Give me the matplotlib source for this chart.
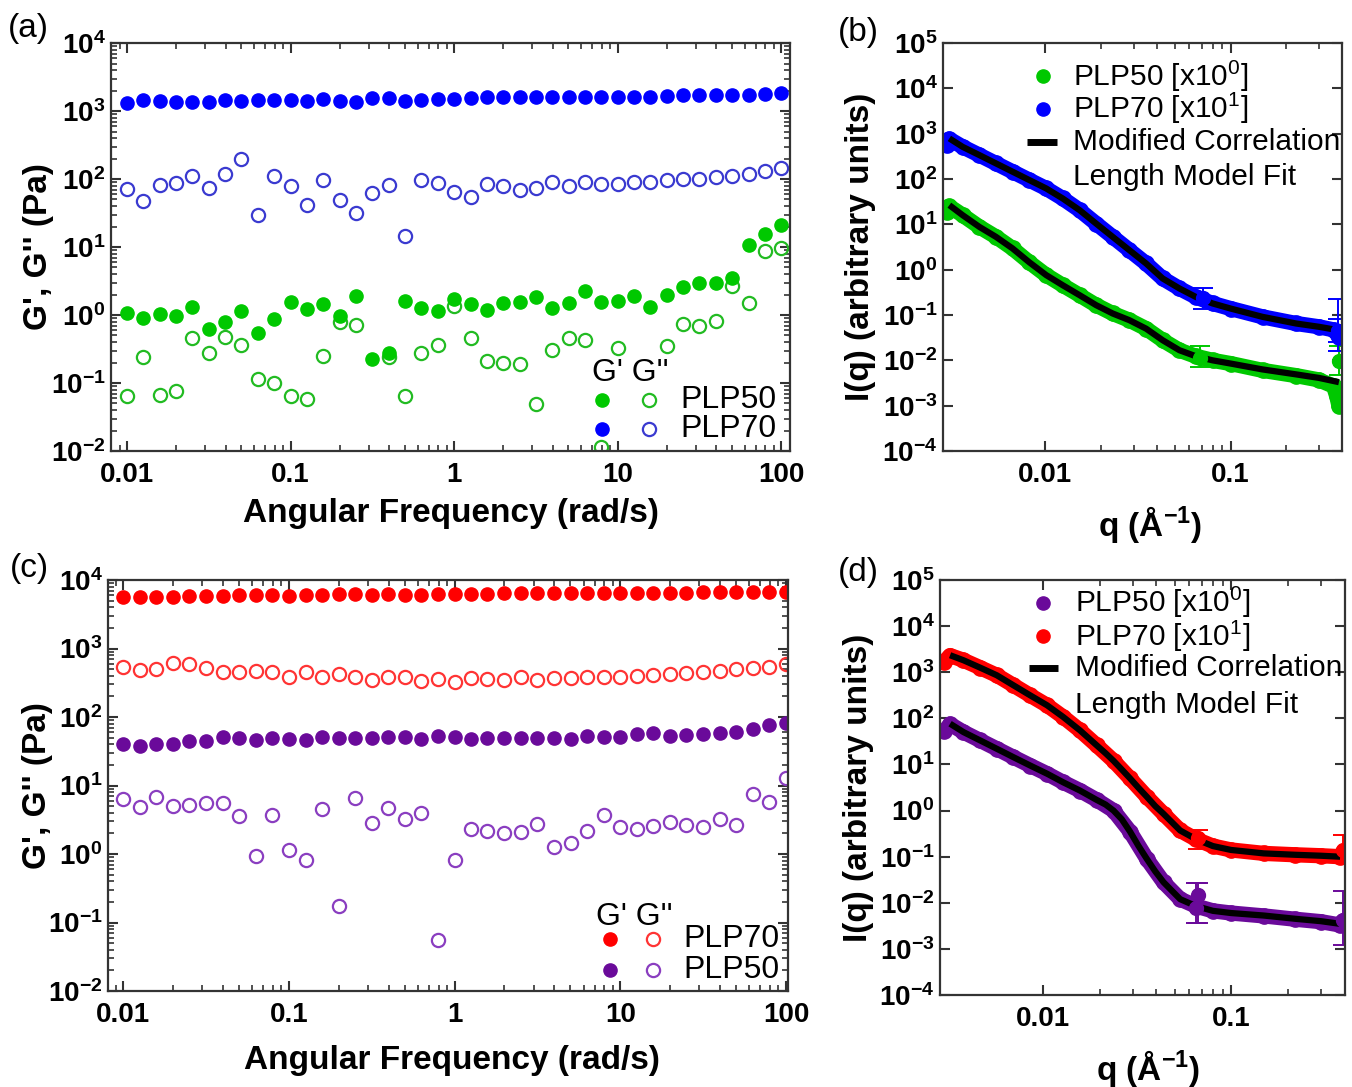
import numpy as np
import matplotlib
matplotlib.use('Agg')
import matplotlib.pyplot as plt
from matplotlib.ticker import FixedLocator, NullLocator, FuncFormatter, LogLocator, NullFormatter

plt.rcParams['font.family'] = ['Liberation Sans', 'DejaVu Sans']
plt.rcParams['mathtext.fontset'] = 'custom'
plt.rcParams['mathtext.rm'] = 'Liberation Sans'
plt.rcParams['mathtext.bf'] = 'Liberation Sans:bold'
plt.rcParams['mathtext.it'] = 'Liberation Sans:italic'
plt.rcParams['mathtext.default'] = 'regular'

nan = np.nan

# angular frequency (rad/s), 10 points per decade
freq = [0.01, 0.0126, 0.0158, 0.02, 0.0251, 0.0316, 0.0398, 0.0501, 0.0631, 0.0794,
        0.1, 0.126, 0.158, 0.2, 0.251, 0.316, 0.398, 0.501, 0.631, 0.794,
        1, 1.26, 1.58, 2, 2.51, 3.16, 3.98, 5.01, 6.31, 7.94,
        10, 12.6, 15.8, 20, 25.1, 31.6, 39.8, 50.1, 63.1, 79.4, 100]

# panel (a)
a70_G1 = [1324, 1435, 1403, 1355, 1340, 1340, 1452, 1403, 1435, 1435,
          1469, 1387, 1486, 1419, 1355, 1537, 1570, 1403, 1469, 1486,
          1517, 1570, 1626, 1588, 1588, 1626, 1626, 1588, 1626, 1626,
          1626, 1626, 1626, 1680, 1700, 1700, 1700, 1700, 1718, 1778, 1820]
a70_G2 = [71, 48, 82, 86, 111, 74, 117, 199, 29.5, 111,
          79, 41, 97, 49, 32, 62, 83, 14.7, 97, 86,
          65, 55, 85, 80, 69, 73, 90, 79, 91, 84,
          84, 89, 89, 96, 99, 101, 108, 112, 120, 130, 147]
a50_G1 = [1.06, 0.914, 1.03, 0.977, 1.33, 0.616, 0.780, 1.16, 0.537, 0.863,
          1.54, 1.21, 1.43, 0.966, 1.90, 0.223, 0.279, 1.61, 1.28, 1.13,
          1.72, 1.45, 1.19, 1.48, 1.55, 1.84, 1.28, 1.52, 2.23, 1.55,
          1.61, 1.92, 1.31, 1.97, 2.61, 2.93, 2.93, 3.46, 10.7, 15.5, 21.1]
a50_G2 = [0.0644, 0.241, 0.0659, 0.0763, 0.464, 0.273, 0.480, 0.362, 0.113, 0.101,
          0.0652, 0.0582, 0.249, 0.798, 0.721, nan, 0.238, 0.0644, 0.273, 0.358,
          1.36, 0.464, 0.211, 0.199, 0.190, 0.0491, 0.305, 0.454, 0.424, 0.0113,
          0.331, nan, nan, 0.354, 0.729, 0.697, 0.826, 2.67, 1.52, 8.83, 9.55]

# panel (c)
c70_G1 = [5710, 5580, 5710, 5710, 5780, 5840, 5840, 5970, 5970, 5970,
          5900, 5970, 6040, 6180, 6250, 6110, 6250, 6110, 6110, 6250,
          6250, 6250, 6250, 6390, 6390, 6390, 6390, 6390, 6530, 6530,
          6530, 6530, 6530, 6530, 6530, 6600, 6600, 6600, 6600, 6600, 6600]
c70_G2 = [543, 486, 497, 607, 594, 514, 459, 449, 475, 454,
          388, 459, 380, 425, 388, 347, 384, 380, 335, 355,
          328, 375, 355, 347, 380, 347, 367, 367, 380, 388,
          388, 401, 410, 425, 434, 459, 475, 497, 525, 543, 587]
c50_G1 = [40.4, 37.7, 40.4, 39.9, 45.1, 45.1, 51.6, 48.8, 46.1, 49.9,
          47.7, 46.1, 51.6, 48.8, 49.9, 49.9, 51.6, 50.4, 47.7, 53.4,
          50.4, 48.3, 49.9, 49.9, 49.9, 49.9, 49.9, 47.7, 53.4, 51.6,
          50.4, 55.8, 57.7, 52.8, 54.6, 56.4, 57.7, 59.7, 66.1, 76.4, 82.6]
c50_G2 = [6.35, 4.91, 6.87, 5.08, 5.19, 5.49, 5.62, 3.63, 0.935, 3.75,
          1.14, 0.817, 4.49, 0.174, 6.64, 2.87, 4.75, 3.21, 3.93, 0.0556,
          0.817, 2.34, 2.19, 2.05, 2.07, 2.74, 1.28, 1.43, 2.19, 3.71,
          2.45, 2.34, 2.56, 2.90, 2.65, 2.50, 3.21, 2.65, 7.43, 5.81, 13.0]

# panel (b) SAXS
qb_dat = [0.00295, 0.00303, 0.00357, 0.0044, 0.00541, 0.00665, 0.0082, 0.0101, 0.0124, 0.0153,
          0.0188, 0.0231, 0.0284, 0.035, 0.043, 0.053, 0.065, 0.08, 0.1, 0.149,
          0.226, 0.3, 0.36, 0.375, 0.385]
b70_dat = [560, 760, 514, 337, 221, 145, 94.6, 62, 37.3, 20.6,
           10.4, 5.3, 2.7, 1.37, 0.64, 0.385, 0.25, 0.18, 0.139, 0.091,
           0.065, 0.055, 0.047, 0.04, 0.032]
b50_dat = [19, 25, 16, 8.8, 5.3, 2.94, 1.45, 0.76, 0.455, 0.274,
           0.165, 0.108, 0.077, 0.05, 0.0278, 0.0167, 0.0123, 0.01, 0.0085, 0.006,
           0.0046, 0.0037, 0.0027, 0.0016, 0.001]
qb_fit = [0.00303, 0.00357, 0.0044, 0.00541, 0.00665, 0.0082, 0.0101, 0.0124, 0.0153, 0.0188,
          0.0231, 0.0284, 0.035, 0.043, 0.053, 0.065, 0.08, 0.1, 0.149, 0.226, 0.3, 0.385]
b70_fit = [787, 514, 337, 221, 145, 94.6, 62, 37.3, 20.6, 10.4,
           5.3, 2.7, 1.37, 0.64, 0.385, 0.25, 0.18, 0.139, 0.091, 0.065, 0.055, 0.046]
b50_fit = [26.5, 16, 8.8, 5.3, 2.94, 1.45, 0.76, 0.455, 0.274, 0.165,
           0.108, 0.077, 0.05, 0.0278, 0.0167, 0.0123, 0.01, 0.0085, 0.0063, 0.0049, 0.0041, 0.0033]
b70_err = dict(q=[0.0708, 0.38, 0.38], c=[0.24, 0.045, 0.045], lo=[0.135, 0.016, 0.025], hi=[0.39, 0.22, 0.08])
b50_err = dict(q=[0.0688, 0.385], c=[0.011, 0.0095], lo=[0.0071, 0.0047], hi=[0.021, 0.021])

# panel (d) SAXS
qd_dat = [0.00298, 0.0032, 0.00377, 0.00462, 0.00567, 0.00695, 0.00853, 0.0105, 0.0128, 0.0157,
          0.0193, 0.0237, 0.029, 0.0356, 0.0437, 0.0536, 0.065, 0.08, 0.1, 0.149,
          0.22, 0.3, 0.38, 0.392]
d70_dat = [1680, 2300, 1820, 1260, 860, 522, 316, 192, 107, 55,
           25.9, 12, 5.0, 2.0, 0.85, 0.37, 0.24, 0.17, 0.14, 0.118,
           0.11, 0.105, 0.10, 0.125]
d50_dat = [52, 75, 50.4, 33.3, 21.9, 14.4, 9.5, 6.3, 4.1, 2.72,
           1.7, 1.0, 0.35, 0.09, 0.028, 0.012, 0.0085, 0.0067, 0.006, 0.0052,
           0.0044, 0.0039, 0.0033, 0.004]
qd_fit = [0.0032, 0.00377, 0.00462, 0.00567, 0.00695, 0.00853, 0.0105, 0.0128, 0.0157, 0.0193,
          0.0215, 0.0237, 0.0262, 0.029, 0.0322, 0.0356, 0.0395, 0.0437, 0.0536, 0.065,
          0.08, 0.1, 0.149, 0.22, 0.3, 0.38]
d70_fit = [2340, 1820, 1260, 860, 522, 316, 192, 107, 55, 25.9,
           17.5, 12, 7.8, 5.0, 3.1, 2.0, 1.25, 0.85, 0.37, 0.24,
           0.17, 0.14, 0.118, 0.11, 0.105, 0.10]
d50_fit = [76.6, 50.4, 33.3, 21.9, 14.4, 9.5, 6.3, 4.1, 2.72, 1.7,
           1.35, 1.0, 0.65, 0.35, 0.17, 0.09, 0.048, 0.028, 0.012, 0.0085,
           0.0067, 0.006, 0.0053, 0.0045, 0.004, 0.0035]
d70_err = dict(q=[0.067, 0.394], c=[0.25, 0.14], lo=[0.15, 0.09], hi=[0.37, 0.29])
d50_err = dict(q=[0.067, 0.065, 0.394], c=[0.0146, 0.0079, 0.0042], lo=[0.0037, 0.0037, 0.0012], hi=[0.027, 0.027, 0.018])

GREEN_F, GREEN_O = '#00c800', '#22bb22'
BLUE_F, BLUE_O = '#0000ff', '#3a3ad0'
RED_F, RED_O = '#ff0000', '#ff3434'
PURP_F, PURP_O = '#6a0a9a', '#8a3ec0'
SPINE = '#333333'

TICK_FS = 20
LABEL_FS = 24
LEG_FS = 23


def dec_label(v, pos):
    e = int(round(np.log10(v)))
    return r'$\mathbf{10^{%d}}$' % e


def style(ax, xlim, ylim, xmajor, xlabels, ydecs, xminor, yminor):
    ax.set_xscale('log')
    ax.set_yscale('log')
    ax.set_xlim(*xlim)
    ax.set_ylim(*ylim)
    ax.xaxis.set_major_locator(FixedLocator(xmajor))
    ax.xaxis.set_major_formatter(FuncFormatter(lambda v, p: xlabels[xmajor.index(v)] if v in xmajor else ''))
    ax.xaxis.set_minor_locator(FixedLocator(xminor))
    ax.xaxis.set_minor_formatter(NullFormatter())
    ax.yaxis.set_major_locator(FixedLocator([10.0 ** e for e in ydecs]))
    ax.yaxis.set_major_formatter(FuncFormatter(dec_label))
    if yminor:
        ax.yaxis.set_minor_locator(LogLocator(base=10, subs=np.arange(2, 10), numticks=20))
    else:
        ax.yaxis.set_minor_locator(NullLocator())
    ax.yaxis.set_minor_formatter(NullFormatter())
    ax.tick_params(which='both', direction='in', top=True, right=True, color=SPINE)
    ax.tick_params(which='major', length=7, width=1.5)
    ax.tick_params(which='minor', length=4, width=1.2)
    ax.tick_params(axis='x', which='major', pad=8, labelsize=TICK_FS)
    ax.tick_params(axis='y', which='major', pad=4, labelsize=TICK_FS)
    for lab in ax.get_xticklabels():
        lab.set_fontweight('bold')
    for s in ax.spines.values():
        s.set_color(SPINE)
        s.set_linewidth(1.6)


def labels(ax, xl, yl, xc, yc):
    ax.set_xlabel(xl, fontsize=LABEL_FS, fontweight='bold')
    ax.set_ylabel(yl, fontsize=LABEL_FS, fontweight='bold')
    ax.xaxis.label.set_va('center')
    ax.yaxis.label.set_va('center')
    ax.xaxis.set_label_coords(*xc)
    ax.yaxis.set_label_coords(*yc)


def rheo(ax, g1, g2, cf, co):
    ax.plot(freq, g2, 'o', mfc='none', mec=co, mew=1.6, ms=9.5)
    ax.plot(freq, g1, 'o', color=cf, mec=cf, ms=9.5)


def rheo_legend(ax, hx, hy, rows):
    ax.text(hx, hy, "G' G''", transform=ax.transAxes, fontsize=LEG_FS, va='center', ha='left')
    for (name, cf, co, xf, xo, xt, y) in rows:
        ax.plot([xf], [y], 'o', color=cf, ms=9.5, transform=ax.transAxes, clip_on=False)
        ax.plot([xo], [y], 'o', mfc='none', mec=co, mew=1.6, ms=9.5, transform=ax.transAxes, clip_on=False)
        ax.text(xt, y, name, transform=ax.transAxes, fontsize=LEG_FS, va='center', ha='left')


def saxs(ax, q_dat, i_dat, q_fit, i_fit, err, col):
    ax.plot(q_dat, i_dat, '-', color=col, lw=11, solid_capstyle='round', solid_joinstyle='round')
    ax.plot(q_dat, i_dat, 'o', color=col, ms=11)
    c = np.array(err['c'])
    ax.errorbar(err['q'], c, yerr=[c - np.array(err['lo']), np.array(err['hi']) - c],
                fmt='o', color=col, ms=10, capsize=7, elinewidth=1.4, capthick=1.4)
    ax.plot(q_fit, i_fit, '-', color='black', lw=4.5, solid_capstyle='butt')


def saxs_legend(ax, xd, xt, ys, names, cols, line_x, line_y, fit_y):
    for y, n, c in zip(ys, names, cols):
        ax.plot([xd], [y], 'o', color=c, ms=9.5, transform=ax.transAxes, clip_on=False)
        ax.text(xt, y, n, transform=ax.transAxes, fontsize=21.5, va='center', ha='left')
    ax.plot(line_x, [line_y, line_y], '-', color='black', lw=5, transform=ax.transAxes,
            clip_on=False, solid_capstyle='butt')
    ax.text(xt, line_y, 'Modified Correlation', transform=ax.transAxes, fontsize=21.5,
            va='center', ha='left')
    ax.text(xt, fit_y, 'Length Model Fit', transform=ax.transAxes, fontsize=21.5,
            va='center', ha='left')


fig = plt.figure(figsize=(13.52, 10.87), dpi=100)
axA = fig.add_axes([0.0821, 0.5851, 0.5022, 0.3753])
axB = fig.add_axes([0.6975, 0.5851, 0.2951, 0.3753])
axC = fig.add_axes([0.0799, 0.0883, 0.5030, 0.3781])
axD = fig.add_axes([0.6953, 0.0846, 0.2996, 0.3818])

f_major = [0.01, 0.1, 1, 10, 100]
f_labels = ['0.01', '0.1', '1', '10', '100']
f_minor = [m * 10.0 ** e for e in range(-3, 3) for m in range(2, 10)]
q_major = [0.01, 0.1]
q_labels = ['0.01', '0.1']
q_minor = [0.02, 0.03, 0.04, 0.05, 0.06, 0.07, 0.08, 0.09, 0.2, 0.3]

# (a)
rheo(axA, a70_G1, a70_G2, BLUE_F, BLUE_O)
rheo(axA, a50_G1, a50_G2, GREEN_F, GREEN_O)
style(axA, (0.00798, 113), (1e-2, 1e4), f_major, f_labels, range(-2, 5), f_minor, True)
rheo_legend(axA, 0.708, 0.191,
            [('PLP50', GREEN_F, GREEN_O, 0.723, 0.792, 0.838, 0.125),
             ('PLP70', BLUE_F, BLUE_O, 0.723, 0.792, 0.838, 0.054)])
labels(axA, 'Angular Frequency (rad/s)', "G', G'' (Pa)", (0.5, -0.152), (-0.1075, 0.5))

# (c)
rheo(axC, c70_G1, c70_G2, RED_F, RED_O)
rheo(axC, c50_G1, c50_G2, PURP_F, PURP_O)
style(axC, (0.0081, 103), (1e-2, 1e4), f_major, f_labels, range(-2, 5), f_minor, True)
rheo_legend(axC, 0.717, 0.180,
            [('PLP70', RED_F, RED_O, 0.738, 0.801, 0.846, 0.127),
             ('PLP50', PURP_F, PURP_O, 0.738, 0.801, 0.846, 0.051)])
labels(axC, 'Angular Frequency (rad/s)', "G', G'' (Pa)", (0.506, -0.168), (-0.103, 0.5))

# (b)
saxs(axB, qb_dat, b50_dat, qb_fit, b50_fit, b50_err, GREEN_F)
saxs(axB, qb_dat, b70_dat, qb_fit, b70_fit, b70_err, BLUE_F)
style(axB, (0.0028, 0.40), (1e-4, 1e5), q_major, q_labels, range(-4, 6), q_minor, False)
saxs_legend(axB, 0.251, 0.326, [0.918, 0.839], ['PLP50 [x10$^{0}$]', 'PLP70 [x10$^{1}$]'],
            [GREEN_F, BLUE_F], [0.211, 0.286], 0.757, 0.672)
labels(axB, r'q (Å$^{\mathbf{-1}}$)', 'I(q) (arbitrary units)', (0.519, -0.181), (-0.208, 0.5))

# (d)
saxs(axD, qd_dat, d50_dat, qd_fit, d50_fit, d50_err, PURP_F)
saxs(axD, qd_dat, d70_dat, qd_fit, d70_fit, d70_err, RED_F)
style(axD, (0.00283, 0.404), (1e-4, 1e5), q_major, q_labels, range(-4, 6), q_minor, False)
saxs_legend(axD, 0.254, 0.333, [0.945, 0.865], ['PLP50 [x10$^{0}$]', 'PLP70 [x10$^{1}$]'],
            [PURP_F, RED_F], [0.220, 0.291], 0.788, 0.699)
labels(axD, r'q (Å$^{\mathbf{-1}}$)', 'I(q) (arbitrary units)', (0.514, -0.176), (-0.2025, 0.5))

# panel letters
for lbl, x, y in [('(a)', 8, 28), ('(b)', 838, 32), ('(c)', 10, 568), ('(d)', 838, 572)]:
    fig.text(x / 1352, 1 - y / 1087, lbl, fontsize=24, va='center', ha='left')

fig.savefig('out.png', dpi=100)
